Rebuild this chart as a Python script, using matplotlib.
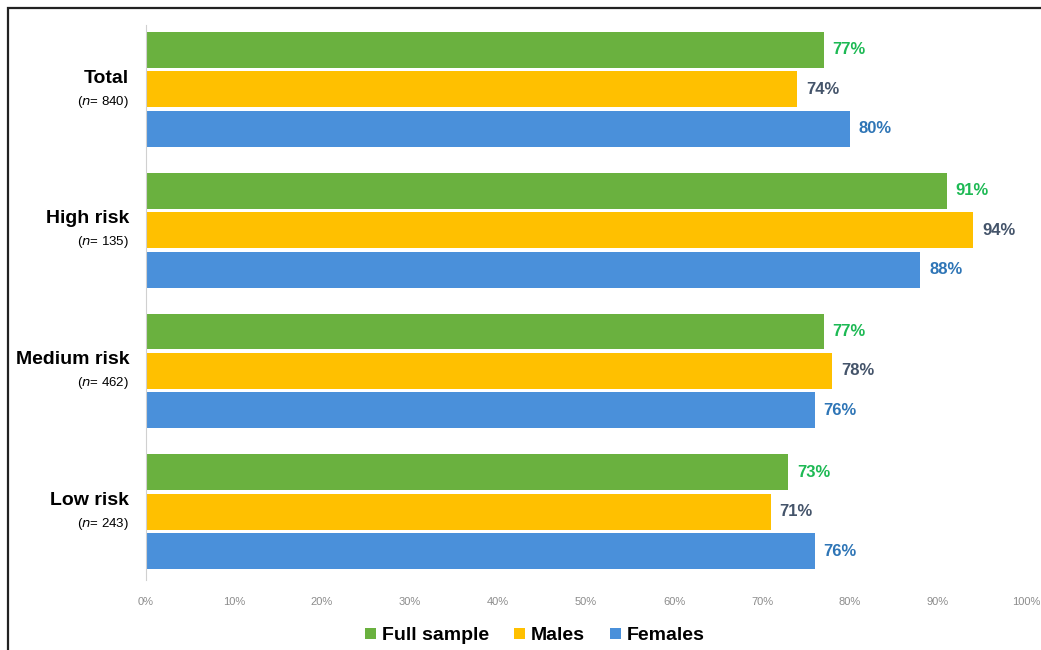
import numpy as np
import matplotlib.pyplot as plt
from matplotlib.patches import Rectangle

# data
groups = ['Total', 'High risk', 'Medium risk', 'Low risk']
n_sizes = [840, 135, 462, 243]
series = ['Full sample', 'Males', 'Females']
full_sample = [77, 91, 77, 73]
males = [74, 94, 78, 71]
females = [80, 88, 76, 76]
ticks = [0, 10, 20, 30, 40, 50, 60, 70, 80, 90, 100]

bar_colors = ['#6AB13F', '#FFC000', '#4A90DA']
label_colors = ['#1DB954', '#44546A', '#2E75B6']

plt.rcParams['font.family'] = ['Liberation Sans', 'DejaVu Sans']

fig = plt.figure(figsize=(10.41, 6.5), dpi=100)
ax = fig.add_axes([146 / 1041, 1 - 580 / 650, 880 / 1041, 555 / 650])

# outer frame (only left and top edges fall inside the image)
fig.patches.append(Rectangle((8 / 1041, -0.1), 1.1, 1.1 - 8 / 650, transform=fig.transFigure,
                             fill=False, edgecolor='#222222', linewidth=1.6, clip_on=False))

offset = 0.28
height = 0.255
centers = np.arange(len(groups))
for k, vals in enumerate([full_sample, males, females]):
    ypos = centers + (k - 1) * offset
    ax.barh(ypos, vals, height=height, color=bar_colors[k], label=series[k])
    for y, v in zip(ypos, vals):
        ax.text(v + 1.0, y, f'{v}%', va='center', ha='left', fontsize=12,
                fontweight='bold', color=label_colors[k])

ax.set_ylim(centers[-1] + offset + 0.205, centers[0] - offset - 0.177)
ax.set_xlim(0, 100)
ax.set_xticks(ticks)
ax.set_xticklabels([f'{t}%' for t in ticks], fontsize=8, color='#8C8C8C')
ax.tick_params(axis='x', length=0, pad=12)
ax.set_yticks([])
for s in ['top', 'right', 'bottom']:
    ax.spines[s].set_visible(False)
ax.spines['left'].set_color('#D0D0D0')

for c, g, n in zip(centers, groups, n_sizes):
    ax.text(-1.9, c - 0.02, g, ha='right', va='bottom', fontsize=14, fontweight='bold')
    ax.text(-1.9, c + 0.03, rf'($\it{{n}}$= {n})', ha='right', va='top', fontsize=9.5)

leg = fig.legend(loc='center', bbox_to_anchor=(535 / 1041, 1 - 636 / 650), ncol=3,
                 frameon=False, handlelength=0.55, handleheight=0.55, handletextpad=0.3,
                 columnspacing=1.3,
                 prop={'weight': 'bold', 'size': 14})

fig.savefig('out.png', dpi=100)
